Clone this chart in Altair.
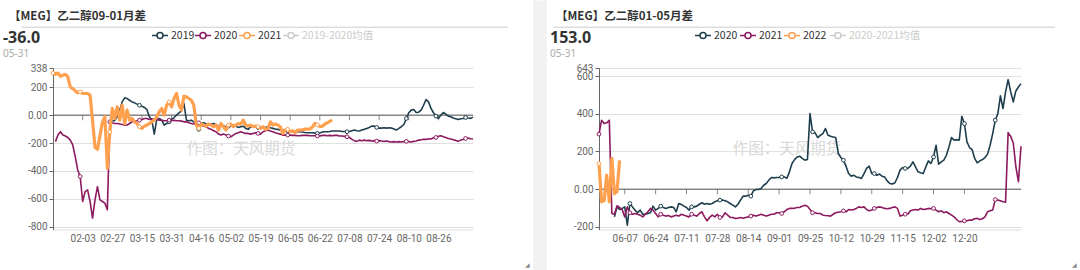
import altair as alt
import pandas as pd

# ---------------- data: left panel (09-01 spread) ----------------
L_TITLE = "【MEG】乙二醇09-01月差"
L_LAST = "-36.0"
L_DATE = "05-31"
L_SERIES = ["2019", "2020", "2021", "2019-2020均值"]
L_TICK_IDX = [12, 24, 36, 48, 60, 72, 84, 96, 108, 120, 132, 144, 156]
L_TICK_LBL = ["02-03", "02-27", "03-15", "03-31", "04-16", "05-02", "05-19",
              "06-05", "06-22", "07-08", "07-24", "08-10", "08-26"]
L_Y_TICKS = [-800, -600, -400, -200, 0, 200, 338]
L_Y_DOMAIN = [-820, 338]
L_X_DOMAIN = [0, 170]
L_MARK_IDX = [0, 11, 23, 35, 47, 59, 71, 83, 95, 107, 119, 131, 143, 155, 167]

l2019_start = 24
l2019 = [
    -43, -36, -12, 36, 95, 124, 119, 107, 95, 88,
    79, 71, 64, 55, 40, -12, -36, -136, -31, -24,
    -36, -71, -60, -48, -31, -17, 0, 17, 31, 83,
    -36, -40, -36, -48, -64, -102, -60, -55, -64, -71,
    -64, -60, -71, -79, -74, -76, -83, -79, -74, -71,
    -79, -88, -83, -79, -95, -102, -83, -79, -83, -88,
    -83, -83, -88, -83, -90, -95, -100, -102, -107, -107,
    -112, -112, -114, -117, -119, -119, -119,
    -121, -124, -126, -126, -126, -129, -131, -129, -121, -119,
    -119, -117, -114, -114, -114, -114, -117, -117, -119, -117,
    -112, -107, -112, -114, -107, -102, -95, -88, -79, -79,
    -88, -93, -93, -90, -93, -90, -93, -100, -107, -95,
    -83, -67, -24, 17, 36, 40, 19, 21, 36, 71,
    112, 95, 48, 17, -7, -24, 0, 19, 7, -7,
    -12, -21, -26, -31, -26, -24, -17, -21, -24, -14,
]

l2020_start = 1
l2020 = [
    -190, -143, -119, -143, -150, -160, -179, -214, -298, -393,
    -440, -619, -548, -536, -619, -738, -607, -512, -607, -619,
    -631, -679, -48, -55, -60, -60, -64, -67, -71, -71,
    -60, -48, -43, -40, -36, -31, -24, -24, -31, -26,
    -31, -31, -36, -36, -40, -40, -36, -40, -36, -40,
    -40, -43, -48, -48, -55, -60, -64, -60, -55, -71,
    -79, -83, -95, -102, -112, -119, -136, -143, -136, -143,
    -150, -155, -143, -131, -126, -119, -126, -131, -131, -136,
    -131, -126, -131, -136, -119, -112, -107, -114, -119, -126,
    -131, -136, -143, -143, -143, -143, -145, -145, -148, -148,
    -145, -145, -145, -148, -148, -148, -150, -150, -145, -145,
    -148, -145, -148, -145, -145, -150, -150, -152, -155, -160,
    -174, -183, -188, -179, -183, -179, -183, -181, -186, -183,
    -186, -183, -186, -188, -186, -190, -193, -190, -193, -190,
    -193, -190, -188, -190, -193, -188, -186, -179, -176, -174,
    -174, -169, -171, -162, -160, -152, -148, -155, -160, -167,
    -171, -176, -181, -188, -179, -174, -167, -164, -169, -171,
]

l2021_start = 0
l2021 = [
    302, 293, 302, 279, 286, 293, 274, 202, 190, 174,
    160, 167, 155, 155, 155, 143, -36, -230, -245, -150,
    -50, -12, -381, -120, 48, -24, 60, -36, 71, -60,
    36, -36, -24, -48, -60, -83, -95, -79, -71, -60,
    -48, -36, -12, 24, 48, 0, 71, 95, 60, 119,
    155, 71, 36, 136, 131, 119, 107, 71, -71, -95,
    -64, -71, -79, -64, -71, -83, -71, -107, -60, -83,
    -107, -71, -64, -83, -71, -60, -64, -36, -71, -79,
    -71, -83, -79, -83, -95, -83, -102, -95, -48, -71,
    -64, -71, -83, -131, -107, -102, -119, -112, -126, -107,
    -107, -105, -100, -100, -100, -85, -60, -70, -80, -80,
    -65, -55, -45, -36,
]

# ---------------- data: right panel (01-05 spread) ----------------
R_TITLE = "【MEG】乙二醇01-05月差"
R_LAST = "153.0"
R_DATE = "05-31"
R_SERIES = ["2020", "2021", "2022", "2020-2021均值"]
R_TICK_IDX = [10, 22, 34, 46, 58, 70, 82, 94, 106, 118, 130, 142]
R_TICK_LBL = ["06-07", "06-24", "07-11", "07-28", "08-14", "09-01", "09-25",
              "10-12", "10-29", "11-15", "12-02", "12-20"]
R_Y_TICKS = [-200, 0, 200, 400, 600, 643]
R_Y_DOMAIN = [-214, 643]
R_X_DOMAIN = [0, 164]
R_MARK_IDX = [0, 12, 24, 36, 47, 59, 71, 83, 95, 107, 119, 130, 142, 154]

r2020_start = 6
r2020 = [
    -147, -94, -108, -102, -94, -191, -76, -94, -111, -125,
    -111, -133, -133, -129, -125, -90, -111, -102, -90, -97,
    -102, -97, -94, -97, -120, -76, -81, -90, -97, -111,
    -94, -94, -90, -80, -72, -80, -76, -80, -76, -67,
    -62, -58, -58, -62, -67, -76, -85, -94, -80, -58,
    -37, -37, -32, -37, -9, -2, -2, 4, 21, 30,
    48, 62, 60, 62, 62, 65, 65, 57, 92, 136,
    157, 171, 175, 163, 154, 157, 401, 304, 299, 274,
    286, 295, 322, 286, 281, 277, 274, 189, 168, 154,
    122, 83, 69, 74, 65, 62, 57, 83, 110, 122,
    83, 83, 74, 80, 69, 65, 44, 30, 27, 34,
    62, 101, 115, 110, 110, 122, 145, 118, 92, 87,
    83, 118, 150, 136, 171, 233, 133, 145, 154, 180,
    224, 274, 260, 263, 260, 387, 348, 251, 221, 210,
    163, 140, 150, 157, 168, 186, 233, 295, 366, 401,
    495, 428, 516, 581, 516, 463, 521, 542, 560,
]

r2021_start = 0
r2021 = [
    292, 366, 348, 352, 366, -129, -133, -88, -97, -108,
    -147, -94, -125, -133, -129, -133, -138, -147, -133, -120,
    -102, -111, -129, -147, -133, -138, -143, -140, -147, -143,
    -138, -143, -133, -138, -143, -147, -133, -138, -143, -129,
    -120, -147, -168, -150, -138, -147, -133, -150, -147, -125,
    -138, -150, -150, -155, -154, -150, -154, -150, -147, -143,
    -138, -143, -138, -133, -138, -143, -138, -133, -133, -125,
    -125, -129, -120, -108, -102, -102, -101, -97, -97, -90,
    -85, -90, -108, -125, -125, -129, -129, -138, -140, -141,
    -143, -133, -125, -122, -120, -115, -120, -108, -111, -108,
    -102, -94, -97, -94, -108, -115, -111, -102, -97, -94,
    -97, -102, -104, -102, -97, -94, -102, -143, -138, -133,
    -133, -115, -111, -108, -111, -102, -108, -106, -102, -104,
    -102, -111, -120, -115, -125, -120, -129, -138, -147, -161,
    -173, -171, -168, -168, -164, -164, -157, -155, -161, -157,
    -147, -120, -115, -111, -55, -58, -62, -67, -69, 300,
    280, 245, 120, 40, 228,
]

r2022_start = 0
r2022 = [136, -67, -60, 74, -67, 163, -24, -13, 153]

# ---------------- style ----------------
COLORS = ["#1f3e4d", "#8c1a5f", "#ffa04f", "#cccccc"]
WIDTHS = [1.6, 1.6, 3.2]
FONT = "Roboto"
CJK = "Noto Sans CJK SC"
ONE = pd.DataFrame({"k": [0]})


def frame(start, vals):
    return pd.DataFrame({"idx": list(range(start, start + len(vals))), "v": vals})


def txt(s, x, y, size, color, weight="normal", align="left", font=CJK):
    return alt.Chart(ONE).mark_text(
        text=s, align=align, baseline="middle", fontSize=size, color=color,
        fontWeight=weight, font=font
    ).encode(x=alt.value(x), y=alt.value(y))


def rect(x1, x2, y1, y2, color):
    return alt.Chart(ONE).mark_rect(color=color).encode(
        x=alt.value(x1), x2=alt.value(x2), y=alt.value(y1), y2=alt.value(y2))


def panel(title, last, date, series_names, series, tick_idx, tick_lbl, y_ticks,
          y_dom, x_dom, mark_idx, width, card_l, card_r, sep_l, leg_x, gap):
    H = 161.5
    xs = alt.Scale(domain=x_dom, nice=False, zero=False)
    ys = alt.Scale(domain=y_dom, nice=False, zero=False)
    idx_str = "[" + ",".join(str(i) for i in tick_idx) + "]"
    lbl_str = "[" + ",".join("'" + s + "'" for s in tick_lbl) + "]"
    x_axis = alt.Axis(values=tick_idx, labelExpr=f"{lbl_str}[indexof({idx_str}, datum.value)]",
                      ticks=False, grid=False, domainColor="#dddddd", labelColor="#666666",
                      labelFontSize=10, labelFont=FONT, labelPadding=4, title=None,
                      labelOverlap=False)
    y_axis = alt.Axis(values=y_ticks, labelExpr="datum.value == 0 ? '0.00' : '' + datum.value",
                      grid=True, gridColor="#e0e0e0", domainColor="#666666", tickColor="#666666",
                      tickSize=4, labelColor="#666666", labelFontSize=10, labelFont=FONT,
                      labelPadding=2, title=None, labelOverlap=False, labelFlush=False,
                      labelBound=False)

    layers = []
    # card extents (white on white) and grey gap between cards
    layers.append(rect(card_l, card_l + 2, -67.5, 202.5, "white"))
    layers.append(rect(card_r - 2, card_r, -67.5, 202.5, "white"))
    if gap:
        layers.append(rect(card_r, card_r + 14, -67.5, 202.5, "#f2f2f2"))
    # axes host (invisible)
    base_df = pd.DataFrame({"idx": [x_dom[0]], "v": [0]})
    layers.append(alt.Chart(base_df).mark_point(opacity=0).encode(
        x=alt.X("idx:Q", scale=xs, axis=x_axis),
        y=alt.Y("v:Q", scale=ys, axis=y_axis)))
    # header texts
    layers.append(txt(title, card_l + 9, -51.5, 11.5, "#333333", "bold"))
    layers.append(alt.Chart(ONE).mark_rule(color="#cccccc", strokeWidth=1).encode(
        x=alt.value(sep_l), x2=alt.value(card_r - 25), y=alt.value(-40.8)))
    layers.append(txt(last, card_l + 3, -30.5, 16, "#333333", "bold", font="Noto Sans"))
    layers.append(txt(date, card_l + 3, -14.5, 10, "#aaaaaa", font="Noto Sans"))
    # watermark
    layers.append(txt("作图：天风期货", 188, 80.5, 15.5, "#d9d9d9", align="center"))
    # legend
    for i, name in enumerate(series_names):
        cx = leg_x[i]
        col = COLORS[i]
        layers.append(alt.Chart(ONE).mark_rule(color=col, strokeWidth=1.5).encode(
            x=alt.value(cx - 8), x2=alt.value(cx + 8), y=alt.value(-32.5)))
        layers.append(alt.Chart(ONE).mark_point(shape="circle", filled=True, fill="white",
                                                stroke=col, strokeWidth=1.5, size=36, opacity=1).encode(
            x=alt.value(cx), y=alt.value(-32.5)))
        layers.append(txt(name, cx + 11, -32.5, 10.5,
                          "#333333" if i < 3 else "#cccccc", font=CJK))
    # zero line and ticks on it
    layers.append(alt.Chart(ONE).mark_rule(color="#555555", strokeWidth=1).encode(
        y=alt.datum(0, scale=ys, axis=y_axis)))
    layers.append(alt.Chart(pd.DataFrame({"idx": tick_idx})).mark_tick(
        orient="vertical", size=5, thickness=1, color="#555555", yOffset=2.5).encode(
        x=alt.X("idx:Q", scale=xs, axis=x_axis), y=alt.datum(0, scale=ys, axis=y_axis)))
    # series
    for i, (start, vals) in enumerate(series):
        df = frame(start, vals)
        layers.append(alt.Chart(df).mark_line(color=COLORS[i], strokeWidth=WIDTHS[i],
                                              strokeJoin="round").encode(
            x=alt.X("idx:Q", scale=xs, axis=x_axis), y=alt.Y("v:Q", scale=ys, axis=y_axis)))
        mk = df[df["idx"].isin(mark_idx)]
        layers.append(alt.Chart(mk).mark_point(shape="circle", filled=True, fill="white",
                                               stroke=COLORS[i], strokeWidth=1, size=14, opacity=1).encode(
            x=alt.X("idx:Q", scale=xs, axis=x_axis), y=alt.Y("v:Q", scale=ys, axis=y_axis)))
    # resize glyph
    layers.append(txt("◢", card_r - 8, 197, 6, "#888888", font="DejaVu Sans"))
    return alt.layer(*layers).properties(width=width, height=H)


left = panel(L_TITLE, L_LAST, L_DATE, L_SERIES,
             [(l2019_start, l2019), (l2020_start, l2020), (l2021_start, l2021)],
             L_TICK_IDX, L_TICK_LBL, L_Y_TICKS, L_Y_DOMAIN, L_X_DOMAIN, L_MARK_IDX,
             420, -53, 480, -31, [107, 150, 194, 238], True)
right = panel(R_TITLE, R_LAST, R_DATE, R_SERIES,
              [(r2020_start, r2020), (r2021_start, r2021), (r2022_start, r2022)],
              R_TICK_IDX, R_TICK_LBL, R_Y_TICKS, R_Y_DOMAIN, R_X_DOMAIN, R_MARK_IDX,
              422, -52, 481, -46, [104, 149, 193, 239], False)

chart = alt.hconcat(left, right, spacing=126, bounds="flush").properties(
    padding=0, background="white"
).configure_view(stroke=None).configure_axis(labelOverlap=False)

chart.save("out.html", embed_options={"renderer": "svg", "actions": False})
